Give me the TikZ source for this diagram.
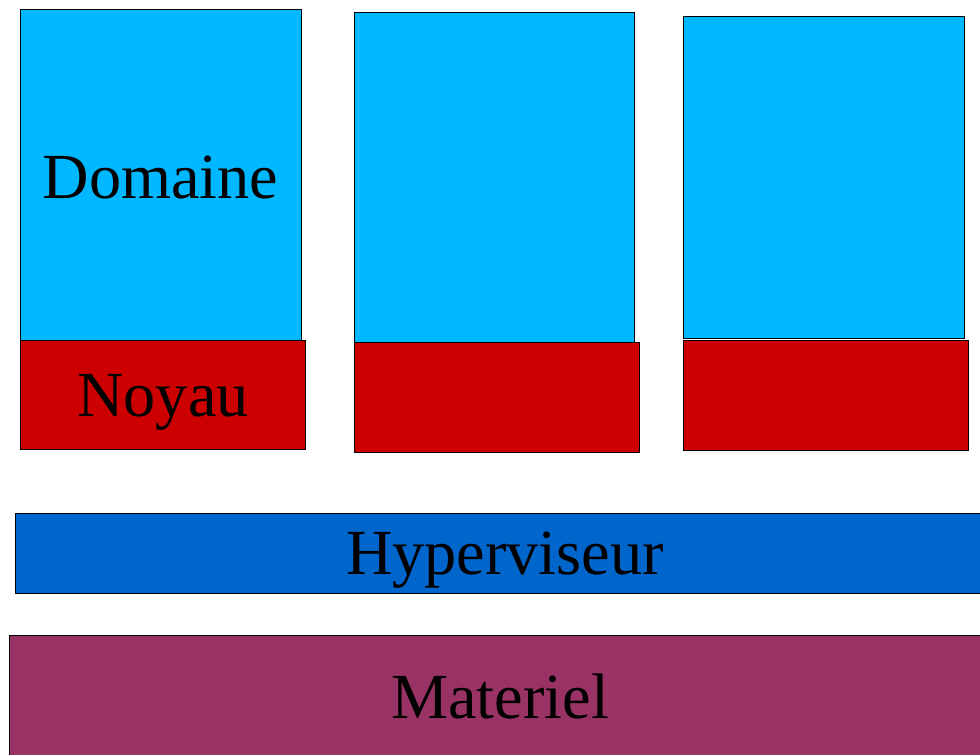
\documentclass[tikz,border=0pt]{standalone}
\usepackage{fontspec}
\setmainfont{Liberation Serif}
\definecolor{dom}{RGB}{0,184,255}
\definecolor{noy}{RGB}{204,0,0}
\definecolor{hyp}{RGB}{0,102,204}
\definecolor{mat}{RGB}{153,51,102}
\begin{document}
\begin{tikzpicture}[x=1pt,y=-1pt,
  box/.style={draw=black,line width=0.9pt},
  lbl/.style={anchor=base,inner sep=0pt,font=\fontsize{64.3}{70}\selectfont}]
\useasboundingbox (0,0) rectangle (980,755);
% domains
\filldraw[box,fill=dom] (20,9) rectangle (301,340);
\filldraw[box,fill=noy] (20,340) rectangle (305,449);
\filldraw[box,fill=dom] (354,12) rectangle (634,342);
\filldraw[box,fill=noy] (354,342) rectangle (639,452);
\filldraw[box,fill=dom] (683,16) rectangle (964,338);
\filldraw[box,fill=noy] (683,340) rectangle (968,450);
% hypervisor
\filldraw[box,fill=hyp] (15,513) rectangle (990,593);
% hardware
\filldraw[box,fill=mat] (9,635) rectangle (990,765);
\node[lbl] (d) at (160.5,198) {Domaine};
\node[lbl] (n) at (163,416) {Noyau};
\node[lbl] (h) at (505,574) {Hyperviseur};
\node[lbl] (m) at (500,718) {Materiel};
\end{tikzpicture}
\end{document}
